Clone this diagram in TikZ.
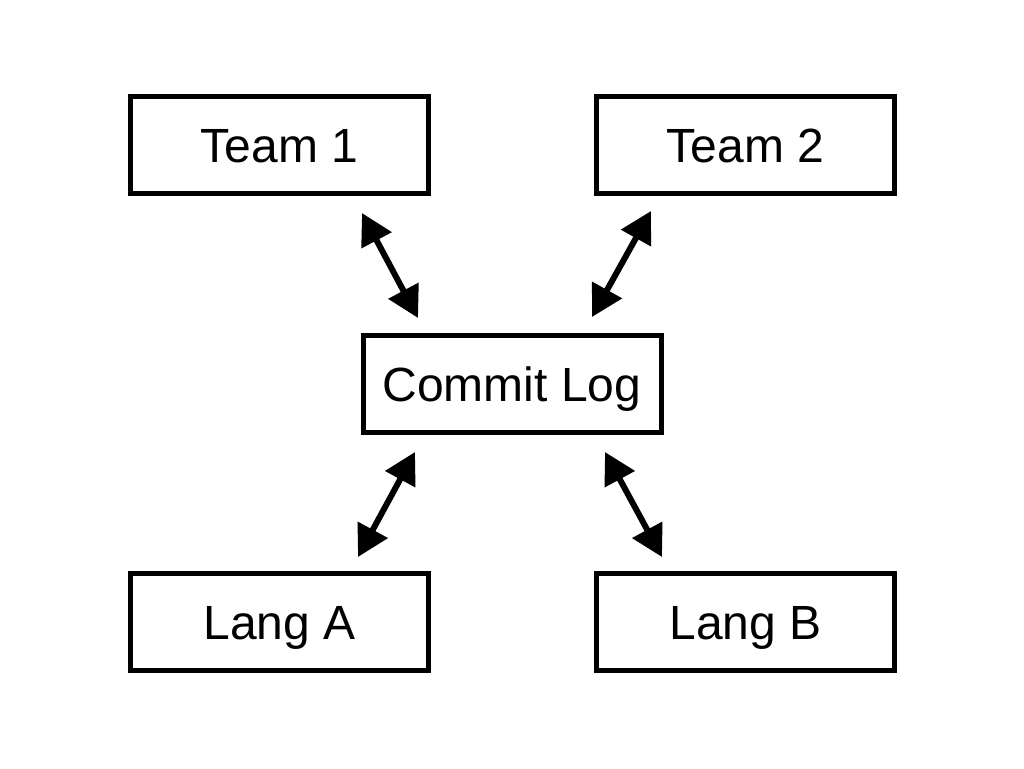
\documentclass[tikz,border=0pt]{standalone}
\usepackage{fontspec}
\setmainfont{Liberation Sans}
\usetikzlibrary{arrows.meta}
\begin{document}
\begin{tikzpicture}[x=1pt,y=-1pt,
  box/.style={draw=black,line width=5pt,fill=white,minimum width=298pt,minimum height=97pt,inner sep=0pt,text height=34pt,text depth=0pt,font=\fontsize{48}{56}\selectfont},
  link/.style={line width=6pt,{Triangle[length=31pt,width=33pt]}-{Triangle[length=31pt,width=33pt]}}]
\useasboundingbox[fill=white] (0,0) rectangle (1024,768);
\node[box] (t1) at (279.5,145) {Team 1};
\node[box] (t2) at (745.5,145) {Team 2};
\node[box] (cl) at (512,384) {Commit Log};
\node[box] (la) at (279.5,622) {Lang A};
\node[box] (lb) at (745.5,622) {Lang B};
\coordinate (t1e) at (362,213);
\coordinate (c1e) at (418,318);
\coordinate (t2e) at (651,211);
\coordinate (c2e) at (592,317);
\coordinate (c3e) at (415,452);
\coordinate (lae) at (358,557);
\coordinate (c4e) at (605,452);
\coordinate (lbe) at (662,557);
\draw[link] (t1e) -- (c1e);
\draw[link] (t2e) -- (c2e);
\draw[link] (c3e) -- (lae);
\draw[link] (c4e) -- (lbe);
\end{tikzpicture}
\end{document}
